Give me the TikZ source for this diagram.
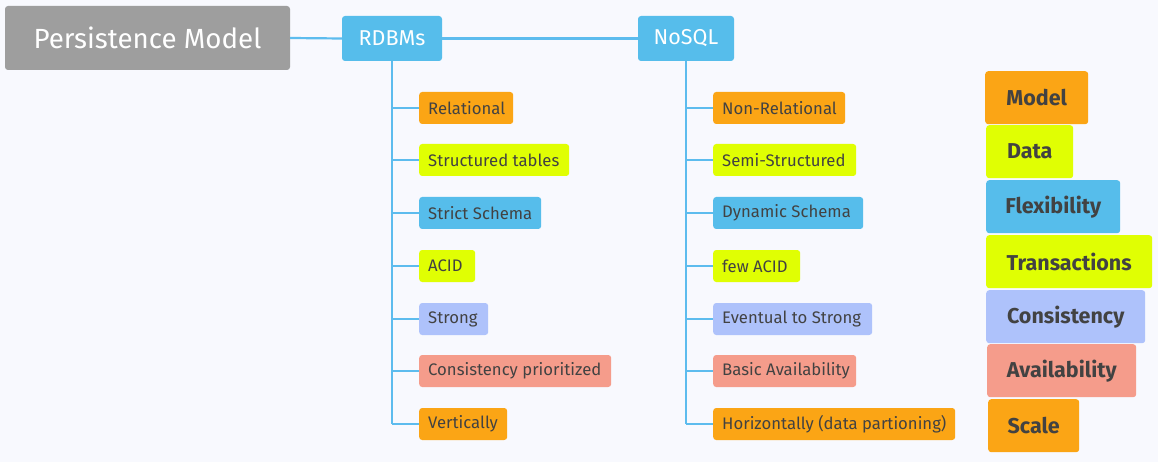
\documentclass[tikz,border=0pt]{standalone}
\usepackage{fontspec}
\setmainfont{Fira Sans}
\newcommand\lbox[2]{\makebox[#1pt][l]{#2}}
\begin{document}
\begin{tikzpicture}[x=1pt,y=-1pt,
  every node/.style={font=\fontsize{16.7}{19}\selectfont},
  box/.style={rounded corners=3pt, inner sep=0pt, text=txt},
  child/.style={box, minimum height=32pt, anchor=west, inner xsep=9pt},
  head/.style={box, fill=hblue, text=white, minimum height=45pt, minimum width=#1, font=\fontsize{21.5}{24}\selectfont},
  leg/.style={box, minimum height=53pt, anchor=north west, font=\bfseries\fontsize{21.5}{25}\selectfont},
  conn/.style={draw=lineblue, line width=2.2pt}]
\definecolor{bg}{HTML}{F8F9FE}
\definecolor{txt}{HTML}{424242}
\definecolor{hblue}{HTML}{56BDEB}
\definecolor{lineblue}{HTML}{5DBCEE}
\definecolor{cor}{HTML}{FBA515}
\definecolor{cye}{HTML}{E0FF03}
\definecolor{cbl}{HTML}{56BDEB}
\definecolor{cla}{HTML}{AEC2FB}
\definecolor{csa}{HTML}{F59C8B}
\definecolor{cgr}{HTML}{9E9E9E}
\fill[bg] (0,0) rectangle (1158,462);
\useasboundingbox (0,0) rectangle (1158,462);

\node[box, fill=cgr, text=white, minimum width=285pt, minimum height=64pt, font=\fontsize{27.7}{31}\selectfont] (pm) at (147.5,38) {Persistence Model};
\node[head=100pt] (rdb) at (392,38.5) {RDBMs};
\node[head=96pt] (nos) at (686,38.5) {NoSQL};

% RDBMs children
\node[child, fill=cor] (r1) at (419,108) {\lbox{76}{Relational}};
\node[child, fill=cye] (r2) at (419,160) {\lbox{132}{Structured tables}};
\node[child, fill=cbl] (r3) at (419,213) {\lbox{104}{Strict Schema}};
\node[child, fill=cye] (r4) at (419,266) {\lbox{38}{ACID}};
\node[child, fill=cla] (r5) at (419,319) {\lbox{51}{Strong}};
\node[child, fill=csa] (r6) at (419,371) {\lbox{174}{Consistency prioritized}};
\node[child, fill=cor] (r7) at (419,424) {\lbox{70}{Vertically}};

% NoSQL children
\node[child, fill=cor] (n1) at (713,108) {\lbox{114}{Non-Relational}};
\node[child, fill=cye] (n2) at (713,160) {\lbox{125}{Semi-Structured}};
\node[child, fill=cbl] (n3) at (713,213) {\lbox{132}{Dynamic Schema}};
\node[child, fill=cye] (n4) at (713,266) {\lbox{69}{few ACID}};
\node[child, fill=cla] (n5) at (713,319) {\lbox{141}{Eventual to Strong}};
\node[child, fill=csa] (n6) at (713,371) {\lbox{125}{Basic Availability}};
\node[child, fill=cor] (n7) at (713,424) {\lbox{224}{Horizontally (data partioning)}};

% legend
\node[leg, fill=cor, minimum width=103pt] (l1) at (985,71) {Model};
\node[leg, fill=cye, minimum width=87pt] (l2) at (986,125) {Data};
\node[leg, fill=cbl, minimum width=134pt] (l3) at (986,180) {Flexibility};
\node[leg, fill=cye, minimum width=166pt] (l4) at (986,235) {Transactions};
\node[leg, fill=cla, minimum width=159pt] (l5) at (986,290) {Consistency};
\node[leg, fill=csa, minimum width=149pt] (l6) at (987,344) {Availability};
\node[leg, fill=cor, minimum width=91pt] (l7) at (988,399) {Scale};

% connectors
\draw[conn] (pm.east) -- (rdb.west);
\draw[conn] (rdb.east) -- (nos.west);
\draw[conn] (rdb.south) -- (rdb.south |- r7.west);
\draw[conn] (nos.south) -- (nos.south |- n7.west);
\foreach \c in {r1,r2,r3,r4,r5,r6,r7} \draw[conn] (rdb.south |- \c.west) -- (\c.west);
\foreach \c in {n1,n2,n3,n4,n5,n6,n7} \draw[conn] (nos.south |- \c.west) -- (\c.west);
\end{tikzpicture}
\end{document}
